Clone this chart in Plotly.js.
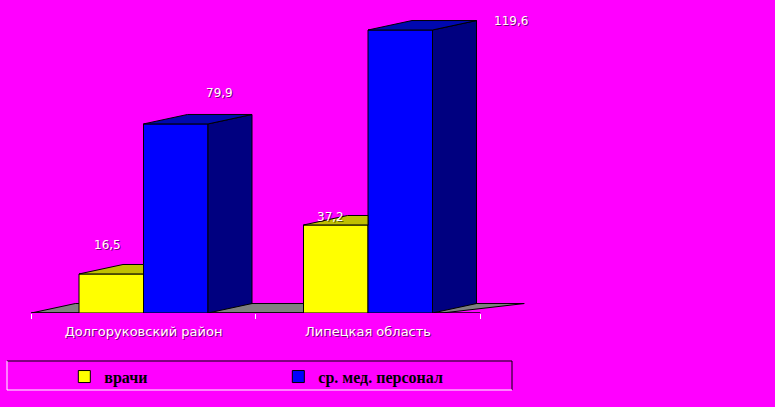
<!DOCTYPE html>
<html>
<head>
<meta charset="utf-8">
<script src="https://cdn.plot.ly/plotly-3.0.1.min.js"></script>
<style>
  html, body { margin: 0; padding: 0; background: #ff00ff; }
  #chart { width: 775px; height: 407px; }
</style>
</head>
<body>
<div id="chart"></div>
<script>
// ---- data ----
const categories = ['Долгоруковский район', 'Липецкая область'];
const seriesNames = ['врачи', 'ср. мед. персонал'];
const doctors = [16.5, 37.2];
const nurses = [79.9, 119.6];

// ---- style / geometry constants (pseudo-3D look) ----
const W = 0.2873;      // bar width in category units
const DX = 0.196;      // depth offset along x (category units)
const DY = 4.0;        // depth offset along y (value units)
const colors = {
  yellow: '#ffff00', yellowTop: '#c0c000',
  blue: '#0000ff', blueTop: '#0008b0', blueSide: '#000080',
  floor: '#808080', bg: '#ff00ff'
};
// label shifts in px: [dx, dy] relative to the front-top-centre of each bar
const docLabelShift = [[-4, 29], [-5, 8]];
const nurLabelShift = [[44, 31], [111, 9.5]];

const idx = categories.map((c, i) => i);
const fmt = v => v.toFixed(1).replace('.', ',');

const traces = [];
traces.push({
  type: 'bar', name: seriesNames[0], x: idx, y: doctors, width: W, offset: -W,
  marker: { color: colors.yellow, line: { color: '#000', width: 1 } },
  hoverinfo: 'skip'
});
traces.push({
  type: 'bar', name: seriesNames[1], x: idx, y: nurses, width: W, offset: 0,
  marker: { color: colors.blue, line: { color: '#000', width: 1 } },
  hoverinfo: 'skip'
});

// top faces of yellow bars (only the part not hidden by the blue bar)
let tx = [], ty = [];
idx.forEach((i, k) => {
  const v = doctors[k];
  tx.push(i - W, i, i, i - W + DX, i - W, null);
  ty.push(v, v, v + DY, v + DY, v, null);
});
traces.push({ type: 'scatter', mode: 'lines', x: tx, y: ty, fill: 'toself',
  fillcolor: colors.yellowTop, line: { color: '#000', width: 1 },
  showlegend: false, hoverinfo: 'skip' });

// side faces of blue bars
let sx = [], sy = [];
idx.forEach((i, k) => {
  const v = nurses[k];
  sx.push(i + W, i + W + DX, i + W + DX, i + W, i + W, null);
  sy.push(0, DY, v + DY, v, 0, null);
});
traces.push({ type: 'scatter', mode: 'lines', x: sx, y: sy, fill: 'toself',
  fillcolor: colors.blueSide, line: { color: '#000', width: 1 },
  showlegend: false, hoverinfo: 'skip' });

// top faces of blue bars
let bx = [], by = [];
idx.forEach((i, k) => {
  const v = nurses[k];
  bx.push(i, i + W, i + W + DX, i + DX, i, null);
  by.push(v, v, v + DY, v + DY, v, null);
});
traces.push({ type: 'scatter', mode: 'lines', x: bx, y: by, fill: 'toself',
  fillcolor: colors.blueTop, line: { color: '#000', width: 1 },
  showlegend: false, hoverinfo: 'skip' });

// value labels
const labelFont = { family: 'DejaVu Sans', size: 12, color: '#ffffff',
  shadow: '1px 1px 0px rgba(0,0,0,0.55)' };
const annotations = [];
idx.forEach((i, k) => {
  annotations.push({ x: i - W / 2, y: doctors[k], xref: 'x', yref: 'y',
    text: fmt(doctors[k]), showarrow: false, font: labelFont,
    xanchor: 'center', yanchor: 'middle',
    xshift: docLabelShift[k][0], yshift: docLabelShift[k][1] });
  annotations.push({ x: i + W / 2, y: nurses[k], xref: 'x', yref: 'y',
    text: fmt(nurses[k]), showarrow: false, font: labelFont,
    xanchor: 'center', yanchor: 'middle',
    xshift: nurLabelShift[k][0], yshift: nurLabelShift[k][1] });
});

const xLo = -0.5, xHi = idx.length - 0.5;
const shapes = [
  // floor
  { type: 'path', xref: 'x', yref: 'y', layer: 'below',
    path: `M ${xLo},0 L ${xLo + DX},${DY} L ${xHi + DX},${DY} L ${xHi - 0.17},0 Z`,
    fillcolor: colors.floor, line: { color: '#000', width: 1 } },
  // front edge of the floor / category axis line
  { type: 'line', xref: 'x', yref: 'y', layer: 'below',
    x0: xLo, x1: xHi, y0: 0, y1: 0, line: { color: '#000', width: 1.5 } },
  // legend frame (two-tone)
  { type: 'line', xref: 'paper', yref: 'paper', x0: 7/775, x1: 512/775,
    y0: -48/313, y1: -48/313, line: { color: '#000', width: 1 } },
  { type: 'line', xref: 'paper', yref: 'paper', x0: 512/775, x1: 512/775,
    y0: -48/313, y1: -77/313, line: { color: '#000', width: 1 } },
  { type: 'line', xref: 'paper', yref: 'paper', x0: 7/775, x1: 512/775,
    y0: -77/313, y1: -77/313, line: { color: '#fff', width: 1 } },
  { type: 'line', xref: 'paper', yref: 'paper', x0: 7/775, x1: 7/775,
    y0: -48/313, y1: -77/313, line: { color: '#fff', width: 1 } }
];

const layout = {
  width: 775, height: 407,
  paper_bgcolor: colors.bg, plot_bgcolor: colors.bg,
  margin: { l: 0, r: 0, t: 0, b: 94, pad: 0, autoexpand: false },
  barmode: 'overlay',
  showlegend: true,
  legend: {
    orientation: 'h', x: 0.083, y: -0.149, xanchor: 'left', yanchor: 'top',
    xref: 'paper', yref: 'paper',
    bgcolor: 'rgba(0,0,0,0)', borderwidth: 0, itemwidth: 30,
    entrywidth: 169, traceorder: 'normal',
    font: { family: 'Liberation Serif', size: 16, color: '#000', weight: 'bold' }
  },
  xaxis: {
    range: [-143.5 / 224.5, (775 - 143.5) / 224.5],
    tickmode: 'array', tickvals: idx, ticktext: categories, ticks: '',
    showgrid: false, zeroline: false, showline: false,
    tickfont: { family: 'DejaVu Sans', size: 13, color: '#ffffff',
      shadow: '1px 1px 0px rgba(0,0,0,0.55)' },
    ticklabelstandoff: 9,
    minor: { tickmode: 'array', tickvals: [xLo, 0.5, xHi], ticks: 'outside',
      ticklen: 5, tickwidth: 1, tickcolor: '#ffffff', showgrid: false },
    fixedrange: true
  },
  yaxis: {
    range: [0, 313 / 2.3662], visible: false, showgrid: false,
    zeroline: false, fixedrange: true
  },
  shapes: shapes,
  annotations: annotations
};

Plotly.newPlot('chart', traces, layout, { displayModeBar: false, staticPlot: true });
</script>
</body>
</html>
